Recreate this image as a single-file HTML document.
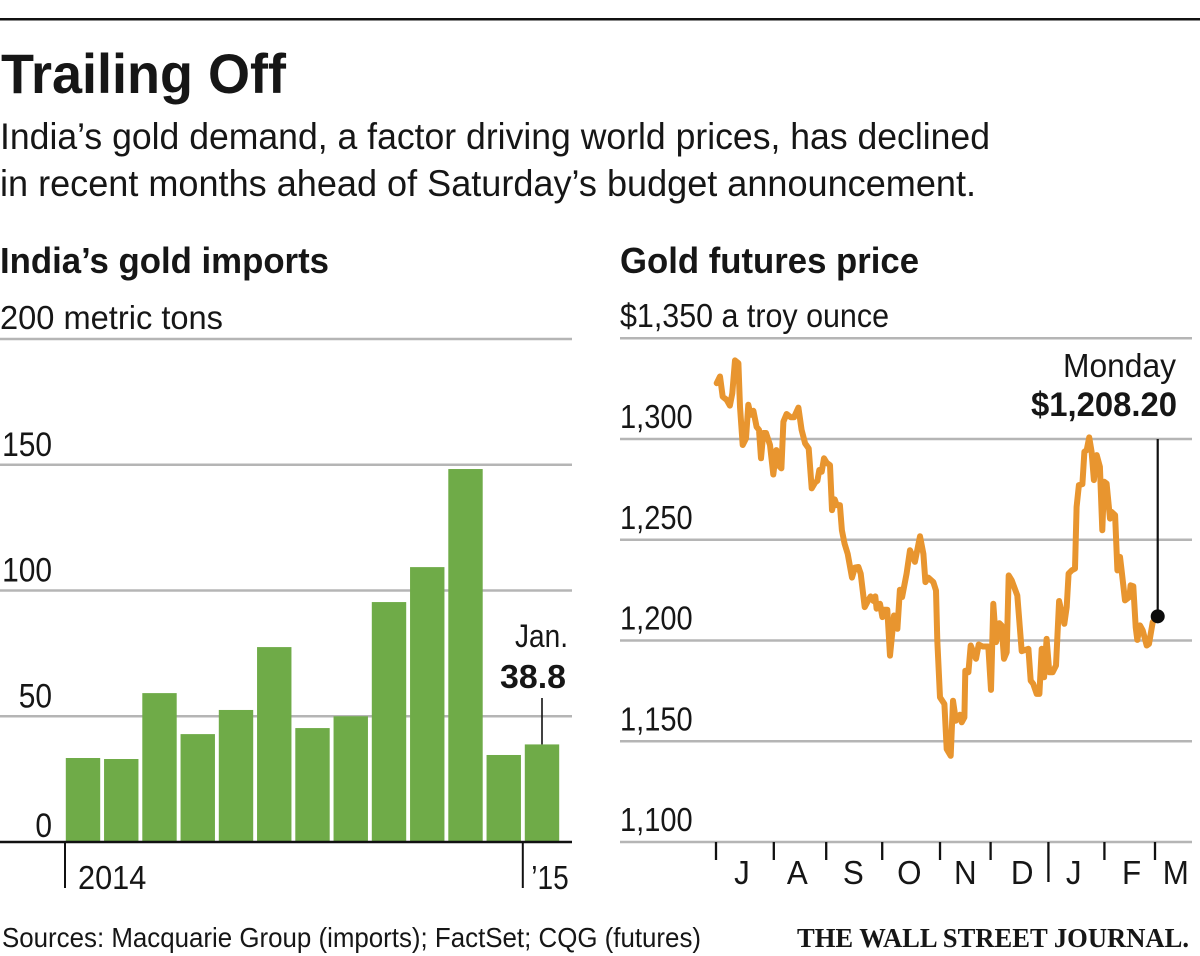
<!DOCTYPE html>
<html lang="en">
<head>
<meta charset="utf-8">
<title>Trailing Off</title>
<style>
html,body{margin:0;padding:0;background:#fff;width:1200px;height:956px;overflow:hidden}
svg{display:block}
text{font-family:"Liberation Sans Narrow","Liberation Sans",sans-serif;fill:#161616}
</style>
</head>
<body>
<svg id="chart" xmlns="http://www.w3.org/2000/svg" width="1200" height="956" viewBox="0 0 1200 956">
  <rect x="0" y="0" width="1200" height="956" fill="#fff"/>
  <rect x="0" y="18" width="1200" height="2.5" fill="#111"/>
  <text x="1" y="93" font-size="56" font-weight="700" textLength="285" lengthAdjust="spacingAndGlyphs">Trailing Off</text>
  <text x="0" y="149" font-size="37" textLength="990" lengthAdjust="spacingAndGlyphs">India’s gold demand, a factor driving world prices, has declined</text>
  <text x="0" y="196" font-size="37" textLength="976" lengthAdjust="spacingAndGlyphs">in recent months ahead of Saturday’s budget announcement.</text>
  <text x="0" y="273" font-size="36" font-weight="700" textLength="329" lengthAdjust="spacingAndGlyphs">India’s gold imports</text>
  <text x="620" y="273" font-size="36" font-weight="700" textLength="299" lengthAdjust="spacingAndGlyphs">Gold futures price</text>
  <text x="0" y="329" font-size="33" textLength="223" lengthAdjust="spacingAndGlyphs">200 metric tons</text>
  <text x="620" y="327" font-size="33" textLength="269" lengthAdjust="spacingAndGlyphs">$1,350 a troy ounce</text>
  <g id="left-panel"></g>
  <g id="right-panel"></g>
  <text x="568" y="647" font-size="32" text-anchor="end" textLength="53" lengthAdjust="spacingAndGlyphs">Jan.</text>
  <text x="566" y="688" font-size="33" font-weight="700" text-anchor="end" textLength="66" lengthAdjust="spacingAndGlyphs">38.8</text>
  <text x="1176" y="377" font-size="33" text-anchor="end" textLength="113" lengthAdjust="spacingAndGlyphs">Monday</text>
  <text x="1177" y="416" font-size="34" font-weight="700" text-anchor="end" textLength="146" lengthAdjust="spacingAndGlyphs">$1,208.20</text>
  <text x="2" y="947" font-size="28" textLength="699" lengthAdjust="spacingAndGlyphs">Sources: Macquarie Group (imports); FactSet; CQG (futures)</text>
  <text x="797" y="947" font-size="27" font-weight="700" textLength="392" lengthAdjust="spacingAndGlyphs" style="font-family:'Liberation Serif',serif">THE WALL STREET JOURNAL.</text>
</svg>
<script>
const importMonths = ['Jan','Feb','Mar','Apr','May','Jun','Jul','Aug','Sep','Oct','Nov','Dec','Jan15'];
const importValues = [33.4,33,59.2,42.9,52.5,77.5,45.3,50,95.4,109.3,148.3,34.6,38.8];
const importTicks = [0,50,100,150,200];
const importTickLabels = ['0','50','100','150',''];
const importYearIndexes = [0,12];
const importYearLabels = ['2014','’15'];

const priceTicks = [1100,1150,1200,1250,1300,1350];
const priceTickLabels = ['1,100','1,150','1,200','1,250','1,300',''];
const monthTickDays = [0,32,61,92,124,152,184,215,243];
const monthLabelDays = [14.4,45,76,107,138,169.5,198,230,254.5];
const monthLabels = ['J','A','S','O','N','D','J','F','M'];
const priceDays = [0.4,2.2,3.7,5.9,7.7,9,10.5,12.4,13.3,14.8,16.6,17.9,19.2,20.7,22.5,23.8,24.9,26.2,27.7,29.9,31.7,33.4,34.5,36.2,37.3,39.1,41.3,43.2,45.6,47.4,49.3,51.3,53,54.8,56.1,57.2,58.5,59.8,61.3,63.1,64.2,65.7,66.8,68.6,69.7,71.2,72.9,75.3,76.9,78.8,80.1,82.3,84.3,85.6,87.1,88.2,88.9,90.8,92.1,93,94.8,96.3,98.5,100.4,101.8,103,105.5,107.4,110.1,112.9,114.8,115.9,117.5,120.3,121.8,122.5,124,126.4,127.7,129.9,131.2,132.8,135.1,136,137.5,138,139.7,141,143.9,145.4,147.6,150.7,152.2,153.5,155,156.8,158.1,159.4,160.9,162,163.7,166.8,169.2,172.9,174.2,175.6,177.5,179,180.3,181.6,183,184.5,186.3,188.2,189.9,192.8,194.1,195.2,196.9,198.7,199.6,200.9,202.8,203.9,205.2,206.6,207.9,209.2,210.7,212.5,213.8,214.8,216.2,218.1,219,220.9,222.2,223.6,224.5,226.4,228.8,229.5,231,232.3,233.2,234.7,236.2,238.4,239.7,241.7,244.5];
const priceValues = [1327.7,1331,1321,1319.4,1316.6,1322.7,1339,1337.6,1316,1297,1300.3,1317,1312,1314,1306,1304.5,1290.4,1303,1303,1297,1282.4,1294.5,1287,1285.4,1308.6,1312.4,1310.8,1310.8,1315.6,1304.5,1297.8,1295.3,1275.5,1278.3,1279.3,1284.6,1283.7,1290.4,1288.2,1287,1264.7,1270,1267.2,1267.2,1254.7,1248,1243,1231.2,1236.2,1236.5,1233.2,1216.6,1220,1221.9,1219.6,1221.9,1215.8,1218.2,1211.6,1215.3,1215.3,1192.5,1212.4,1205.8,1225.2,1221.6,1233.2,1244.8,1239,1251.7,1243,1229,1231.2,1229,1224.8,1200,1171.8,1168.5,1146.1,1142.8,1170.1,1160.2,1163.2,1159.4,1161.9,1185,1184.2,1197.5,1190.9,1198,1197,1197,1175.5,1218.2,1199.2,1208.6,1207.5,1190.9,1194.2,1232.3,1229.9,1222.4,1194.7,1195.9,1180.1,1178.5,1173.5,1173.5,1195.9,1181.8,1200.8,1184.2,1184.2,1187.6,1219.6,1208.3,1216.6,1233.2,1234.8,1235.7,1266.3,1277.1,1277.6,1293.7,1294.5,1300.8,1293.7,1279.6,1292,1286.2,1254.7,1278.8,1277.9,1260.5,1263.8,1262.2,1234.8,1241.5,1234.8,1219.9,1221.6,1227.4,1226.9,1206.6,1200.3,1207.5,1205,1197.5,1198.3,1209.1,1212];
const longMonthIndex = 6;

const NS = 'http://www.w3.org/2000/svg';
const leftPanel = document.getElementById('left-panel');
const rightPanel = document.getElementById('right-panel');

function xBar(i){ return 65.8 + i * 38.25; }
function yImports(v){ return 842 - v * 2.515; }
function xDay(d){ return 716 + d * 1.8066; }
function yPrice(p){ return 842 - (p - 1100) * 2.015; }

function seg(parent,x1,y1,x2,y2,color,width){
  const l = document.createElementNS(NS,'line');
  l.setAttribute('x1',x1);
  l.setAttribute('y1',y1);
  l.setAttribute('x2',x2);
  l.setAttribute('y2',y2);
  l.setAttribute('stroke',color);
  l.setAttribute('stroke-width',width);
  parent.appendChild(l);
  return l;
}
function label(parent,str,x,y,size,anchor,sx){
  const t = document.createElementNS(NS,'text');
  t.setAttribute('transform','translate('+x+','+y+') scale('+sx+',1)');
  t.setAttribute('font-size',size);
  t.setAttribute('text-anchor',anchor);
  t.textContent = str;
  parent.appendChild(t);
  return t;
}

// Left panel: gridlines and tick labels
importTicks.forEach(function(v,i){
  if(v !== 0){
    const g = seg(leftPanel,0,yImports(v),572,yImports(v),'#b5b5b5',2.5);
    
    
  }
  if(importTickLabels[i]){
    const t = label(leftPanel,importTickLabels[i],52,yImports(v)-(v===0?5:9),34,'end',0.88);
    
    
  }
});

// Left panel: bars
importValues.forEach(function(v,i){
  const r = document.createElementNS(NS,'rect');
  r.setAttribute('x',xBar(i));
  r.setAttribute('y',yImports(v));
  r.setAttribute('width',34.4);
  r.setAttribute('height',842-yImports(v));
  r.setAttribute('fill','#6fab48');
  
  
  leftPanel.appendChild(r);
});

// Left panel: baseline, year ticks, callout leader
const importBase = seg(leftPanel,0,842,572,842,'#111',2.5);


importYearIndexes.forEach(function(idx,i){
  const x = xBar(idx) - (i===0?0.8:2);
  const tk = seg(leftPanel,x,842,x,888,'#111',2);
  
  
  const t = label(leftPanel,importYearLabels[i],x+(i===0?13:8.5),889,33,'start',i===0?0.93:0.85);
  
  
});
const lastBar = importValues.length-1;
const importLeader = seg(leftPanel,xBar(lastBar)+17.2,698,xBar(lastBar)+17.2,yImports(importValues[lastBar]),'#111',1.6);



// Right panel: gridlines and tick labels
priceTicks.forEach(function(p,i){
  const g = seg(rightPanel,620,yPrice(p),1192,yPrice(p),'#b5b5b5',2.5);
  
  
  if(priceTickLabels[i]){
    const t = label(rightPanel,priceTickLabels[i],620,yPrice(p)-11,33,'start',0.88);
    
    
  }
});

// Right panel: month ticks and labels
monthTickDays.forEach(function(d,i){
  const x = xDay(d);
  const tk = seg(rightPanel,x,842,x,i===longMonthIndex?882:860,'#111',2.3);
  
  
});
monthLabelDays.forEach(function(d,i){
  const t = label(rightPanel,monthLabels[i],xDay(d),884,33,'middle',0.95);
  
  
});

// Right panel: price line
const pathD = priceDays.map(function(d,i){
  return (i?'L':'M')+xDay(d).toFixed(1)+' '+yPrice(priceValues[i]).toFixed(1);
}).join(' ');
const priceLine = document.createElementNS(NS,'path');
priceLine.setAttribute('d',pathD);
priceLine.setAttribute('fill','none');
priceLine.setAttribute('stroke','#e8952f');
priceLine.setAttribute('stroke-width',6);
priceLine.setAttribute('stroke-linejoin','round');
priceLine.setAttribute('stroke-linecap','round');


rightPanel.appendChild(priceLine);

// Right panel: callout leader and end dot
const endX = xDay(priceDays[priceDays.length-1]);
const endY = yPrice(priceValues[priceValues.length-1]);
const priceLeader = seg(rightPanel,endX,439,endX,endY,'#111',2.2);


const dot = document.createElementNS(NS,'circle');
dot.setAttribute('cx',endX);
dot.setAttribute('cy',endY);
dot.setAttribute('r',7);
dot.setAttribute('fill','#0c0c0c');


rightPanel.appendChild(dot);
</script>
</body>
</html>
